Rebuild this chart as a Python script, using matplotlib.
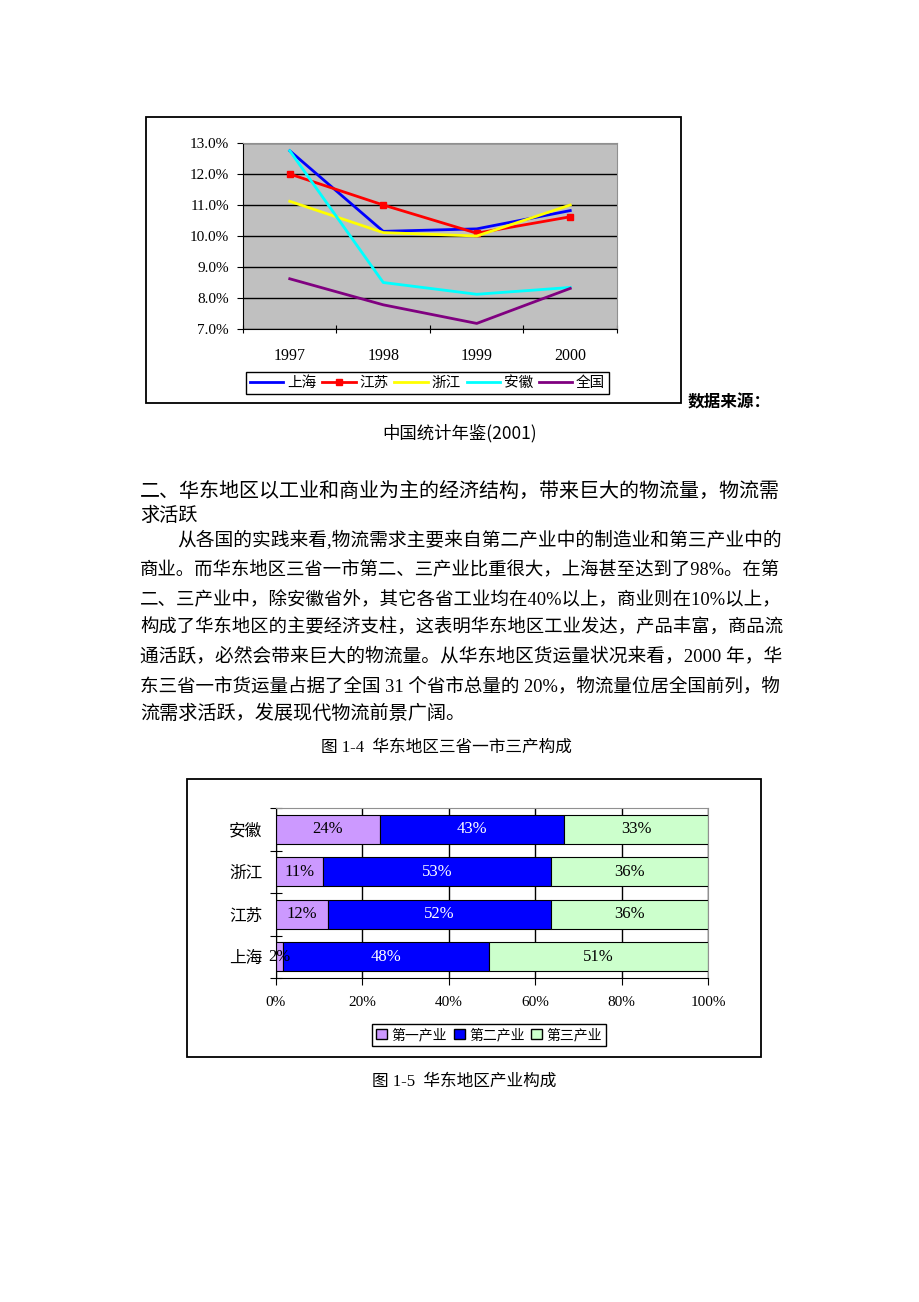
import matplotlib as mpl
mpl.use('Agg')
import matplotlib.pyplot as plt
import numpy as np
from matplotlib.patches import Rectangle, Patch

# page size in pixels
W, H = 920, 1302

# line chart data (growth rate, %)
years = ['1997', '1998', '1999', '2000']
shanghai = [12.75, 10.15, 10.23, 10.82]
jiangsu = [12.0, 11.0, 10.09, 10.62]
zhejiang = [11.12, 10.11, 10.0, 11.0]
anhui = [12.75, 8.5, 8.12, 8.34]
quanguo = [8.62, 7.78, 7.18, 8.31]
line_names = ['上海', '江苏', '浙江', '安徽', '全国']

# bar chart data (industry share, %), bottom to top
regions = ['上海', '江苏', '浙江', '安徽']
primary = [1.7, 12.0, 10.9, 24.0]
secondary = [47.7, 51.7, 52.8, 42.7]
tertiary = [50.6, 36.3, 36.3, 33.3]
industry_names = ['第一产业', '第二产业', '第三产业']

cjk = ['Noto Sans CJK SC', 'DejaVu Sans']
mixed = ['Liberation Serif', 'Noto Sans CJK SC', 'DejaVu Sans']


def rect(x0, y0, x1, y1):
    return [x0 / W, 1 - y1 / H, (x1 - x0) / W, (y1 - y0) / H]


def frame(fig, x0, y0, x1, y1):
    fig.add_artist(Rectangle((x0 / W, 1 - y1 / H), (x1 - x0) / W, (y1 - y0) / H,
                             transform=fig.transFigure, fill=False,
                             edgecolor='black', linewidth=1.3))


fig = plt.figure(figsize=(W / 100, H / 100), dpi=100)
fig.patch.set_facecolor('white')
renderer = fig.canvas.get_renderer()

# ---------------- line chart ----------------
frame(fig, 146, 117, 681, 403)
ax1 = fig.add_axes(rect(243, 143, 617, 329))
ax1.set_facecolor('#c0c0c0')
x = np.arange(len(years))
h1, = ax1.plot(x, shanghai, color='#0000ff', lw=2)
h2, = ax1.plot(x, jiangsu, color='#ff0000', lw=2, marker='s', ms=5)
h3, = ax1.plot(x, zhejiang, color='#ffff00', lw=2)
h4, = ax1.plot(x, anhui, color='#00ffff', lw=2)
h5, = ax1.plot(x, quanguo, color='#800080', lw=2)
ax1.set_xlim(-0.5, 3.5)
ax1.set_ylim(7, 13)
yt = np.arange(7, 13.01, 1)
ax1.set_yticks(yt)
ax1.set_yticklabels(['%.1f%%' % v for v in yt], family=mixed, fontsize=11)
ax1.yaxis.grid(True, color='black', lw=1)
ax1.set_axisbelow(True)
ax1.set_xticks([-0.5, 0.5, 1.5, 2.5, 3.5])
ax1.set_xticklabels([])
ax1.set_xticks(x, minor=True)
ax1.set_xticklabels(years, minor=True, family=mixed, fontsize=11.5)
ax1.tick_params(axis='x', which='minor', length=0, pad=14)
ax1.tick_params(axis='x', which='major', direction='inout', length=6)
ax1.tick_params(axis='y', direction='out', length=4, pad=6)
for s in ['top', 'right']:
    ax1.spines[s].set_color('#909090')

fig.legend([h1, h2, h3, h4, h5], line_names, loc='center',
           bbox_to_anchor=((251 + 604) / 2 / W, 1 - 383 / H), ncol=5,
           frameon=True, fancybox=False, edgecolor='black', framealpha=1,
           handlelength=2.3, handletextpad=0.25, columnspacing=0.4,
           borderpad=0.25, prop={'family': cjk, 'size': 10.5})

fig.text(688 / W, 1 - 402 / H, '数据来源：', family=cjk, fontsize=12,
         fontweight='bold', va='center', ha='left')
fig.text(460 / W, 1 - 433 / H, '中国统计年鉴(2001)', family=cjk, fontsize=12.5,
         va='center', ha='center')

# ---------------- body text ----------------
# (x start, y centre, text, justified to the right margin?)
body = [
    (140, 492, '二、华东地区以工业和商业为主的经济结构，带来巨大的物流量，物流需', True),
    (140, 516, '求活跃', False),
    (177, 541, '从各国的实践来看,物流需求主要来自第二产业中的制造业和第三产业中的', True),
    (140, 570, '商业。而华东地区三省一市第二、三产业比重很大，上海甚至达到了98%。在第', True),
    (140, 599, '二、三产业中，除安徽省外，其它各省工业均在40%以上，商业则在10%以上，', True),
    (140, 628, '构成了华东地区的主要经济支柱，这表明华东地区工业发达，产品丰富，商品流', True),
    (140, 657, '通活跃，必然会带来巨大的物流量。从华东地区货运量状况来看，2000 年，华', True),
    (140, 686, '东三省一市货运量占据了全国 31 个省市总量的 20%，物流量位居全国前列，物', True),
    (140, 714, '流需求活跃，发展现代物流前景广阔。', False),
]
right_margin = 780
base_size = 13.8
for bx, by, s, just in body:
    t = fig.text(bx / W, 1 - by / H, s, family=mixed, fontsize=base_size,
                 va='center', ha='left')
    if just:
        w = t.get_window_extent(renderer).width
        t.set_fontsize(base_size * (right_margin - bx) / w)

fig.text(446 / W, 1 - 748 / H, '图 1-4  华东地区三省一市三产构成', family=mixed,
         fontsize=12, va='center', ha='center')

# ---------------- bar chart ----------------
frame(fig, 187, 779, 761, 1057)
ax2 = fig.add_axes(rect(276, 808, 708, 978))
y = np.arange(len(regions))
left2 = np.array(primary)
left3 = left2 + np.array(secondary)
b1 = ax2.barh(y, primary, height=0.68, color='#cc99ff', edgecolor='black', lw=0.8)
b2 = ax2.barh(y, secondary, left=left2, height=0.68, color='#0000ff',
              edgecolor='black', lw=0.8)
b3 = ax2.barh(y, tertiary, left=left3, height=0.68, color='#ccffcc',
              edgecolor='black', lw=0.8)
for cont, vals, col in [(b1, primary, 'black'), (b2, secondary, 'white'),
                        (b3, tertiary, 'black')]:
    ax2.bar_label(cont, labels=['%.0f%%' % v for v in vals], label_type='center',
                  color=col, family=mixed, fontsize=12)
ax2.set_xlim(0, 100)
ax2.set_ylim(-0.5, 3.5)
ax2.set_xticks(np.arange(0, 101, 20))
ax2.set_xticklabels(['%d%%' % v for v in range(0, 101, 20)], family=mixed,
                    fontsize=11)
ax2.xaxis.grid(True, color='black', lw=1)
ax2.set_axisbelow(True)
ax2.set_yticks([-0.5, 0.5, 1.5, 2.5, 3.5])
ax2.set_yticklabels([])
ax2.set_yticks(y, minor=True)
ax2.set_yticklabels(regions, minor=True, family=cjk, fontsize=12)
ax2.tick_params(axis='y', which='minor', length=0, pad=10)
ax2.tick_params(axis='y', which='major', direction='inout', length=8)
ax2.tick_params(axis='x', direction='out', length=5, pad=8)
for s in ['top', 'right']:
    ax2.spines[s].set_color('#909090')

fig.legend([Patch(facecolor='#cc99ff', edgecolor='black'),
            Patch(facecolor='#0000ff', edgecolor='black'),
            Patch(facecolor='#ccffcc', edgecolor='black')],
           industry_names, loc='center',
           bbox_to_anchor=((373 + 605) / 2 / W, 1 - 1035 / H), ncol=3,
           frameon=True, fancybox=False, edgecolor='black', framealpha=1,
           handlelength=0.8, handleheight=0.8, handletextpad=0.3,
           columnspacing=0.5, borderpad=0.3, prop={'family': cjk, 'size': 10})

fig.text(372 / W, 1 - 1082 / H, '图 1-5  华东地区产业构成', family=mixed,
         fontsize=12, va='center', ha='left')

plt.savefig('out.png', dpi=100)
plt.close(fig)
